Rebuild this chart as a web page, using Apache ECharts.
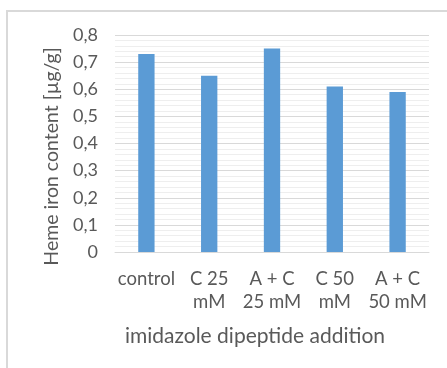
<!DOCTYPE html>
<html>
<head>
<meta charset="utf-8">
<style>
  html, body { margin: 0; padding: 0; background: #ffffff; overflow: hidden; }
  #chart { width: 447px; height: 368px; }
</style>
<script src="https://cdn.jsdelivr.net/npm/echarts@6/dist/echarts.min.js"></script>
</head>
<body>
<div id="chart"></div>
<script>
// Treatment groups and measured heme iron content
const categories = ['control', 'C 25\nmM', 'A + C\n25 mM', 'C 50\nmM', 'A + C\n50 mM'];
const hemeIron = [0.73, 0.65, 0.75, 0.61, 0.59];
const yMin = 0;
const yMax = 0.8;
const yStep = 0.1;

const xTitle = 'imidazole dipeptide addition';
const yTitle = 'Heme iron content [µg/g]';

const textColor = '#595959';
const fontFamily = 'Lato, "Open Sans", sans-serif';

const chart = echarts.init(document.getElementById('chart'), null, { renderer: 'canvas' });

chart.setOption({
  animation: false,
  backgroundColor: '#ffffff',
  graphic: [{
    type: 'rect',
    z: -10,
    shape: { x: 7, y: 11, width: 520, height: 420 },
    style: { fill: 'none', stroke: '#d9d9d9', lineWidth: 2 }
  }],
  grid: { left: 115, right: 18, top: 35, bottom: 116, containLabel: false },
  xAxis: {
    type: 'category',
    data: categories,
    axisLine: { show: true, lineStyle: { color: '#d9d9d9', width: 1 } },
    axisTick: { show: false },
    axisLabel: {
      interval: 0,
      color: textColor,
      fontFamily: fontFamily,
      fontSize: 18.5,
      lineHeight: 23,
      margin: 16,
      align: 'center'
    },
    name: xTitle,
    nameLocation: 'middle',
    nameGap: 74,
    nameTextStyle: {
      color: textColor,
      fontFamily: fontFamily,
      fontSize: 21,
      padding: [0, 34, 0, 0]
    }
  },
  yAxis: {
    type: 'value',
    min: yMin,
    max: yMax,
    interval: yStep,
    axisLine: { show: false },
    axisTick: { show: false },
    axisLabel: {
      color: textColor,
      fontFamily: fontFamily,
      fontSize: 18,
      margin: 17,
      formatter: v => (Math.round(v * 10) / 10).toString().replace('.', ',')
    },
    splitLine: { show: true, lineStyle: { color: '#d9d9d9', width: 1 } },
    minorTick: { show: false, splitNumber: 5 },
    minorSplitLine: { show: true, lineStyle: { color: '#eeeeee', width: 1 } },
    name: yTitle,
    nameLocation: 'middle',
    nameRotate: 90,
    nameGap: 53,
    nameTextStyle: {
      color: textColor,
      fontFamily: fontFamily,
      fontSize: 19.5,
      padding: [0, 26, 0, 0]
    }
  },
  series: [{
    type: 'bar',
    data: hemeIron,
    barWidth: '26%',
    itemStyle: { color: '#5b9bd5' }
  }]
});
</script>
</body>
</html>
